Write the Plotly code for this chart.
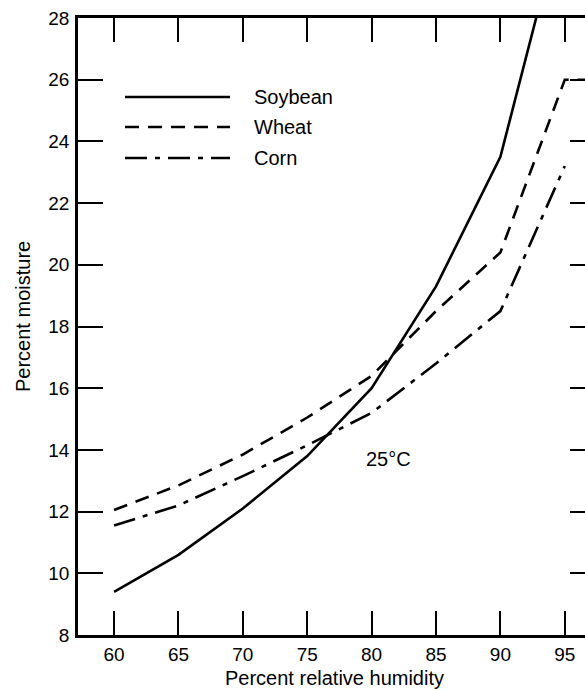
import plotly.graph_objects as go

# Equilibrium moisture content of grains at 25 °C
humidity = [60, 65, 70, 75, 80, 85, 90, 95]
soybean = [9.4, 10.6, 12.1, 13.8, 16.0, 19.3, 23.5, 31.6]
wheat_rh = [60, 65, 70, 75, 80, 85, 90, 95, 100]
wheat = [12.05, 12.85, 13.85, 15.05, 16.4, 18.5, 20.4, 26.0, 26.0]
corn = [11.55, 12.2, 13.15, 14.15, 15.2, 16.8, 18.5, 23.2]

x_ticks = [60, 65, 70, 75, 80, 85, 90, 95]
y_ticks = [8, 10, 12, 14, 16, 18, 20, 22, 24, 26, 28]

series_names = ["Soybean", "Wheat", "Corn"]
series_dash = ["solid", "14px,9px", "22px,8px,5px,8px"]

W, H = 585, 690
L, R, T, B = 78, 0, 18, 55
FONT = "Liberation Sans, Arial, sans-serif"
INK = "black"
LW = 2.6

fig = go.Figure()
fig.add_trace(go.Scatter(x=humidity, y=soybean, mode="lines", name="Soybean",
                         line=dict(color=INK, width=LW, dash=series_dash[0])))
fig.add_trace(go.Scatter(x=wheat_rh, y=wheat, mode="lines", name="Wheat",
                         line=dict(color=INK, width=LW, dash=series_dash[1])))
fig.add_trace(go.Scatter(x=humidity, y=corn, mode="lines", name="Corn",
                         line=dict(color=INK, width=LW, dash=series_dash[2])))
# empty trace so the right-hand tick axis is drawn
fig.add_trace(go.Scatter(x=[], y=[], yaxis="y2", showlegend=False))

plot_w = W - L - R
plot_h = H - T - B


def px_x(p):
    return (p - L) / plot_w


def px_y(p):
    return (H - B - p) / plot_h


shapes = []
annotations = []
legend_rows = [97, 127, 158]
for name, dash, row in zip(series_names, series_dash, legend_rows):
    shapes.append(dict(type="line", xref="paper", yref="paper",
                       x0=px_x(125), x1=px_x(230), y0=px_y(row), y1=px_y(row),
                       line=dict(color=INK, width=LW, dash=dash)))
    annotations.append(dict(xref="paper", yref="paper", x=px_x(252), y=px_y(row),
                            text=name, showarrow=False, xanchor="left", yanchor="middle",
                            font=dict(family=FONT, size=20, color=INK)))

annotations.append(dict(x=81.3, y=13.7, xref="x", yref="y", text="25°C", showarrow=False,
                        font=dict(family=FONT, size=20, color=INK)))
annotations.append(dict(xref="paper", yref="paper", x=px_x(334), y=px_y(678),
                        text="Percent relative humidity", showarrow=False,
                        xanchor="center", yanchor="middle",
                        font=dict(family=FONT, size=20, color=INK)))
annotations.append(dict(xref="paper", yref="paper", x=px_x(23), y=px_y(317),
                        text="Percent moisture", showarrow=False, textangle=-90,
                        xanchor="center", yanchor="middle",
                        font=dict(family=FONT, size=20, color=INK)))

fig.update_layout(
    width=W, height=H,
    margin=dict(l=L, r=R, t=T, b=B, pad=0),
    paper_bgcolor="white", plot_bgcolor="white",
    showlegend=False,
    font=dict(family=FONT, size=19, color=INK),
    xaxis=dict(range=[57.2, 96.57], tickvals=x_ticks, ticktext=[str(v) for v in x_ticks],
               ticks="inside", ticklen=24, tickwidth=2.2, tickcolor=INK,
               showline=True, linewidth=2.6, linecolor=INK, mirror="ticks",
               showgrid=False, zeroline=False, ticklabelstandoff=0),
    yaxis=dict(range=[8, 28], tickvals=y_ticks, ticktext=[str(v) for v in y_ticks],
               ticks="inside", ticklen=25, tickwidth=2.2, tickcolor=INK,
               showline=True, linewidth=2.6, linecolor=INK, mirror=False,
               showgrid=False, zeroline=False, ticklabelstandoff=2),
    yaxis2=dict(range=[8, 28], tickvals=y_ticks, overlaying="y", side="right",
                ticks="inside", ticklen=15, tickwidth=2.2, tickcolor=INK,
                showline=False, showticklabels=False, showgrid=False, zeroline=False),
    shapes=shapes,
    annotations=annotations,
)

fig.write_html("out.html")
